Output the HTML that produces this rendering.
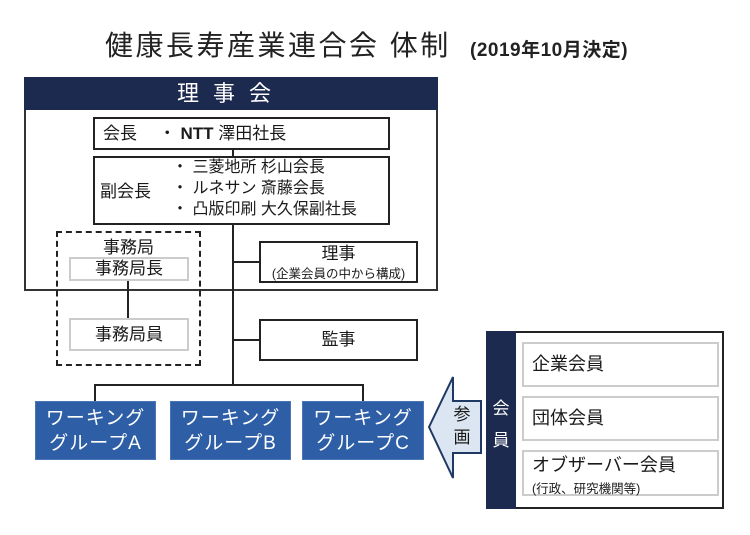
<!DOCTYPE html>
<html><head><meta charset="utf-8"><style>
body{margin:0;width:750px;height:535px;background:#fff;position:relative;overflow:hidden;font-family:"Liberation Sans","Noto Sans CJK JP",sans-serif;color:#1a1a1a}
.a{position:absolute;box-sizing:border-box}
.bx{border:2px solid #222;background:#fff}
.gb{border:2px solid #ccc;background:#fff}
.wg{background:#2e5fa6;border:1px solid #4a76b8;color:#fff;font-size:19px;line-height:25px;text-align:center;padding-top:4px;letter-spacing:1px}
.l{position:absolute;background:#222}
</style></head><body>
<div class="a" style="left:105px;top:24px;font-size:28px;color:#222;white-space:nowrap;letter-spacing:2.5px">健康長寿産業連合会 体制</div>
<div class="a" style="left:470px;top:35px;font-size:19px;font-weight:bold;color:#222;white-space:nowrap;letter-spacing:0.5px">(2019年10月決定)</div>

<div class="a" style="left:24px;top:77px;width:414px;height:214px;border:2px solid #333"></div>
<div class="a" style="left:24px;top:77px;width:414px;height:33px;background:#1c2a4f;color:#fff;font-size:22px;text-align:center;line-height:33px;letter-spacing:14px">理事会</div>

<div class="l" style="left:232px;top:149px;width:2px;height:237px"></div>
<div class="a bx" style="left:93px;top:117px;width:297px;height:33px;font-size:17px;line-height:29px;padding-left:8px;white-space:nowrap">会長　 ・ <b style="font-weight:600">NTT</b> 澤田社長</div>
<div class="a bx" style="left:93px;top:156px;width:297px;height:69px"></div>
<div class="a" style="left:100px;top:177px;font-size:17px">副会長</div>
<div class="a" style="left:172px;top:157px;font-size:16px;line-height:21px;white-space:nowrap">・ 三菱地所 杉山会長<br>・ ルネサン 斎藤会長<br>・ 凸版印刷 大久保副社長</div>

<div class="l" style="left:233px;top:261px;width:27px;height:2px"></div>
<div class="l" style="left:233px;top:339px;width:27px;height:2px"></div>
<div class="a bx" style="left:259px;top:241px;width:159px;height:42px;text-align:center;font-size:17px;line-height:19px;padding-top:1px">理事<br><span style="font-size:12.5px">(企業会員の中から構成)</span></div>
<div class="a bx" style="left:259px;top:319px;width:159px;height:42px;text-align:center;font-size:17px;line-height:38px">監事</div>

<div class="a" style="left:56px;top:231px;width:145px;height:135px;border:2px dashed #222"></div>
<div class="a" style="left:56px;top:233px;width:145px;text-align:center;font-size:17px">事務局</div>
<div class="l" style="left:127px;top:280px;width:2px;height:40px"></div>
<div class="a gb" style="left:69px;top:257px;width:120px;height:24px;text-align:center;font-size:17px;line-height:20px">事務局長</div>
<div class="a gb" style="left:69px;top:318px;width:120px;height:33px;text-align:center;font-size:17px;line-height:29px">事務局員</div>

<div class="l" style="left:94px;top:384px;width:270px;height:2px"></div>
<div class="l" style="left:94px;top:384px;width:2px;height:17px"></div>
<div class="l" style="left:362px;top:384px;width:2px;height:17px"></div>
<div class="a wg" style="left:35px;top:401px;width:121px;height:59px">ワーキング<br>グループA</div>
<div class="a wg" style="left:170px;top:401px;width:121px;height:59px">ワーキング<br>グループB</div>
<div class="a wg" style="left:302px;top:401px;width:122px;height:59px">ワーキング<br>グループC</div>

<svg class="a" style="left:425px;top:374px" width="62" height="108"><polygon points="4,53 28,3 28,27 56,27 56,79 28,79 28,104" fill="#dce6f2" stroke="#1f3864" stroke-width="2"/></svg>
<div class="a" style="left:449px;top:403px;font-size:17px;line-height:23px;width:26px;text-align:center">参<br>画</div>

<div class="a" style="left:486px;top:331px;width:238px;height:178px;border:2px solid #222;background:#fff"></div>
<div class="a" style="left:486px;top:331px;width:30px;height:178px;background:#1c2a4f;color:#fff;font-size:17px;line-height:32px;text-align:center;padding-top:62px">会<br>員</div>
<div class="a gb" style="left:522px;top:342px;width:197px;height:45px;font-size:18px;line-height:41px;padding-left:8px">企業会員</div>
<div class="a gb" style="left:522px;top:396px;width:197px;height:45px;font-size:18px;line-height:41px;padding-left:8px">団体会員</div>
<div class="a gb" style="left:522px;top:450px;width:197px;height:46px;font-size:18px;line-height:22px;padding-left:8px;padding-top:2px;white-space:nowrap">オブザーバー会員<br><span style="font-size:12.5px;line-height:16px">(行政、研究機関等)</span></div>
</body></html>
